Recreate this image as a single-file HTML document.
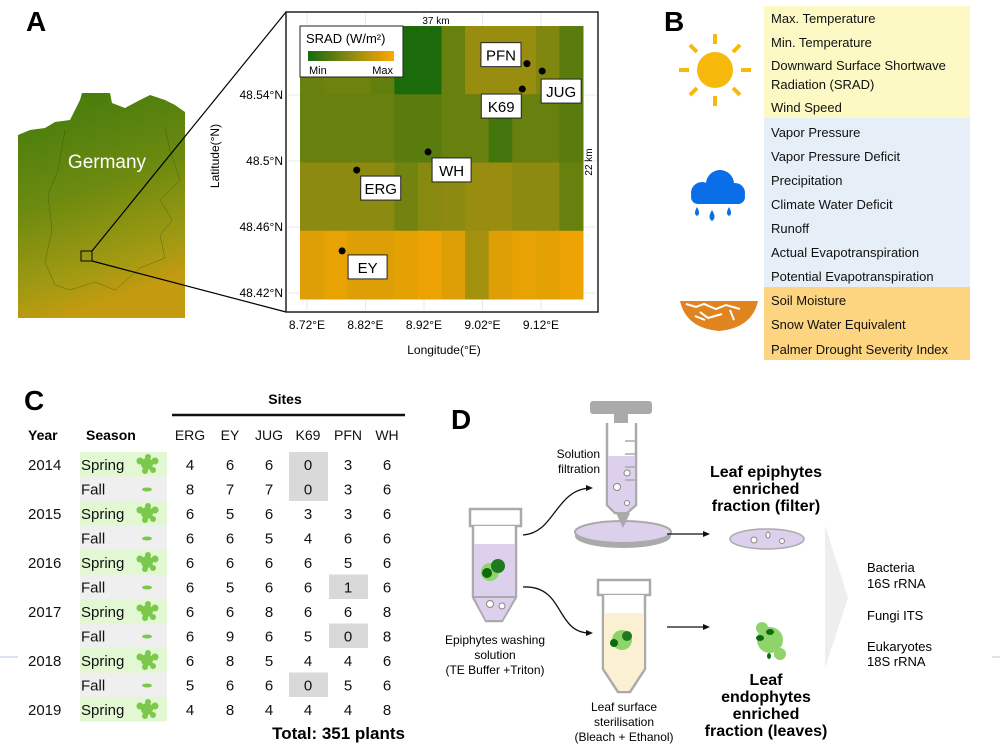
<!DOCTYPE html>
<html><head><meta charset="utf-8">
<style>
html,body{margin:0;padding:0;background:#fff;}
svg{display:block;font-family:"Liberation Sans",Arial,sans-serif;}
</style></head>
<body>
<svg id="fig" width="1000" height="750" viewBox="0 0 1000 750" xmlns="http://www.w3.org/2000/svg">
<defs>
<linearGradient id="germ" x1="0" y1="0" x2="0.25" y2="1">
<stop offset="0" stop-color="#3f7a0c"/><stop offset="0.5" stop-color="#6d8a10"/><stop offset="0.85" stop-color="#a39a12"/><stop offset="1" stop-color="#c49a10"/>
</linearGradient>
<linearGradient id="cbar" x1="0" y1="0" x2="1" y2="0">
<stop offset="0" stop-color="#17690c"/><stop offset="0.5" stop-color="#8c8a10"/><stop offset="1" stop-color="#ffa800"/>
</linearGradient>
</defs>

<!-- Panel A -->
<text x="26" y="31" font-size="28" font-weight="bold">A</text>
<g>
<polygon points="18,135 30,130 45,128 55,122 70,120 80,100 82,93 110,93 112,103 125,108 140,100 150,95 165,100 175,105 185,112 185,318 18,318" fill="url(#germ)"/>
<path d="M65,130 L58,170 L48,195 L52,230 L45,262 L55,285 L70,290 L95,282 L115,290 L140,268 L165,258 L160,235 L172,220 L160,200 L180,180 L170,150 L165,128" fill="none" stroke="#2a4a08" stroke-width="0.5" opacity="0.6"/>
<text x="107" y="168" font-size="19" fill="#fff" text-anchor="middle">Germany</text>
<rect x="81" y="251" width="11" height="10" fill="none" stroke="#000" stroke-width="1"/>
</g>
<line x1="92" y1="251" x2="286" y2="12" stroke="#000" stroke-width="1.2"/>
<line x1="92" y1="261" x2="286" y2="312" stroke="#000" stroke-width="1.2"/>

<g id="mapPanel">
<rect x="286" y="12" width="312" height="300" fill="#fff" stroke="#222" stroke-width="1.5"/>
</g>
<text x="436" y="24" font-size="10" text-anchor="middle">37 km</text>
<text x="0" y="0" font-size="10" text-anchor="middle" transform="translate(592,162) rotate(-90)">22 km</text>
<text x="0" y="0" font-size="12" text-anchor="middle" transform="translate(219,156) rotate(-90)">Latitude(°N)</text>
<text x="444" y="354" font-size="12" text-anchor="middle">Longitude(°E)</text>

<!-- Panel B -->
<text x="664" y="31" font-size="28" font-weight="bold">B</text>
<rect x="764" y="6" width="206" height="112" fill="#fdf9c4"/>
<rect x="764" y="118" width="206" height="169" fill="#e6eef8"/>
<rect x="764" y="287" width="206" height="73" fill="#fdd580"/>
<g id="bvars" font-size="13" fill="#111"></g>
<g stroke="#f7b80c" stroke-width="4">
<circle cx="715" cy="70" r="18" fill="#f7b80c" stroke="none"/>
<line x1="715" y1="34" x2="715" y2="44"/><line x1="715" y1="96" x2="715" y2="106"/>
<line x1="679" y1="70" x2="689" y2="70"/><line x1="741" y1="70" x2="751" y2="70"/>
<line x1="690" y1="45" x2="697" y2="52"/><line x1="733" y1="88" x2="740" y2="95"/>
<line x1="740" y1="45" x2="733" y2="52"/><line x1="697" y1="88" x2="690" y2="95"/>
</g>
<g fill="#0a6ee8">
<circle cx="702" cy="193" r="11"/><circle cx="720" cy="184" r="14"/><circle cx="735" cy="193" r="10"/>
<rect x="691" y="190" width="54" height="14" rx="7"/>
<path d="M697,207 q-4,7 0,9 q4,-2 0,-9z"/><path d="M712,210 q-5,8 0,11 q5,-3 0,-11z"/><path d="M729,207 q-4,7 0,9 q4,-2 0,-9z"/>
</g>
<g>
<path d="M680,301 L758,301 Q752,328 719,331 Q686,328 680,301z" fill="#e08420"/>
<path d="M686,304 l10,3 l8,-3 l12,5 l10,-4 l14,4 M700,312 l8,6 l14,-4 M730,310 l4,10 M695,316 l10,4" stroke="#fff" stroke-width="2" fill="none"/>
</g>

<!-- Panel C -->
<text x="24" y="410" font-size="28" font-weight="bold">C</text>
<text x="285" y="404" font-size="14" font-weight="bold" text-anchor="middle">Sites</text>
<line x1="172" y1="415" x2="405" y2="415" stroke="#111" stroke-width="2.5"/>
<text x="28" y="440" font-size="14" font-weight="bold">Year</text>
<text x="86" y="440" font-size="14" font-weight="bold">Season</text>
<g id="table" font-size="14" fill="#111"></g>
<text x="405" y="739" font-size="17" font-weight="bold" text-anchor="end">Total: 351 plants</text>
<line x1="0" y1="657" x2="18" y2="657" stroke="#b8c8e8" stroke-width="1"/>

<!-- Panel D -->
<text x="451" y="429" font-size="28" font-weight="bold">D</text>
<g>
<rect x="470" y="509" width="51" height="17" fill="#fff" stroke="#aaa" stroke-width="2.5"/>
<path d="M473,526 L473,597 L486,621 L502,621 L516,597 L516,526" fill="#fff" stroke="#aaa" stroke-width="2.5"/>
<path d="M474,544 L515,544 L515,597 L502,620 L486,620 L474,597z" fill="#ddd0ec"/>
<line x1="473" y1="597" x2="516" y2="597" stroke="#aaa" stroke-width="2"/>
<circle cx="490" cy="572" r="9" fill="#8ed46a"/><circle cx="498" cy="566" r="7" fill="#1e7a1e"/><circle cx="487" cy="573" r="5" fill="#0d6a0d"/>
<circle cx="490" cy="604" r="3.5" fill="#fff" stroke="#888"/><circle cx="502" cy="606" r="3" fill="#fff" stroke="#888"/>
</g>
<text font-size="12" text-anchor="middle"><tspan x="495" y="644">Epiphytes washing</tspan><tspan x="495" y="659">solution</tspan><tspan x="495" y="674">(TE Buffer +Triton)</tspan></text>
<g>
<rect x="590" y="401" width="62" height="13" rx="3" fill="#aaa"/>
<rect x="614" y="413" width="14" height="10" fill="#aaa"/>
<path d="M607,423 L607,505 L615,513 L627,513 L636,505 L636,423" fill="#fff" stroke="#aaa" stroke-width="2.5"/>
<path d="M608,456 L635,456 L635,504 L626,512 L616,512 L608,504z" fill="#ddd0ec"/>
<path d="M625,441 h10 M625,454 h10 M625,467 h10 M625,480 h10" stroke="#aaa" stroke-width="1.5"/>
<circle cx="617" cy="487" r="3.5" fill="#fff" stroke="#888"/><circle cx="627" cy="473" r="3" fill="#fff" stroke="#888"/><circle cx="627" cy="503" r="2.5" fill="#fff" stroke="#888"/>
<ellipse cx="623" cy="536" rx="48" ry="12" fill="#aaa"/>
<ellipse cx="623" cy="532" rx="48" ry="11" fill="#ddd0ec" stroke="#aaa" stroke-width="2"/>
<path d="M616,513 L623,528 L630,513z" fill="#aaa"/>
</g>
<text font-size="12" text-anchor="end"><tspan x="600" y="458">Solution</tspan><tspan x="600" y="473">filtration</tspan></text>
<path d="M523,535 C555,533 555,490 590,488" fill="none" stroke="#111" stroke-width="1.3"/>
<path d="M593,488 l-7,-3 l0,6z" fill="#111"/>
<path d="M523,587 C565,585 555,633 590,633" fill="none" stroke="#111" stroke-width="1.3"/>
<path d="M593,633 l-7,-3 l0,6z" fill="#111"/>
<g>
<rect x="598" y="580" width="52" height="15" fill="#fff" stroke="#aaa" stroke-width="2.5"/>
<path d="M603,595 L603,669 L618,692 L630,692 L645,669 L645,595" fill="#fff" stroke="#aaa" stroke-width="2.5"/>
<path d="M604,613 L644,613 L644,668 L629,691 L619,691 L604,668z" fill="#fbf0d2"/>
<circle cx="622" cy="640" r="10" fill="#8ed46a"/><circle cx="627" cy="636" r="5" fill="#1e7a1e"/><circle cx="614" cy="643" r="4" fill="#0d6a0d"/>
</g>
<text font-size="12" text-anchor="middle"><tspan x="624" y="711">Leaf surface</tspan><tspan x="624" y="726">sterilisation</tspan><tspan x="624" y="741">(Bleach + Ethanol)</tspan></text>
<line x1="667" y1="534" x2="705" y2="534" stroke="#111" stroke-width="1.3"/><path d="M710,534 l-7,-3 l0,6z" fill="#111"/>
<line x1="667" y1="627" x2="705" y2="627" stroke="#111" stroke-width="1.3"/><path d="M710,627 l-7,-3 l0,6z" fill="#111"/>
<g>
<ellipse cx="767" cy="539" rx="37" ry="10" fill="#ddd0ec" stroke="#aaa" stroke-width="1.5"/>
<circle cx="754" cy="540" r="3" fill="#fff" stroke="#888"/><ellipse cx="768" cy="535" rx="2" ry="3" fill="#fff" stroke="#888"/><circle cx="782" cy="541" r="2.5" fill="#fff" stroke="#888"/>
</g>
<text font-size="16" font-weight="bold" text-anchor="middle"><tspan x="766" y="477">Leaf epiphytes</tspan><tspan x="766" y="494">enriched</tspan><tspan x="766" y="511">fraction (filter)</tspan></text>
<g>
<circle cx="770" cy="640" r="13" fill="#8ed46a"/><circle cx="762" cy="628" r="6" fill="#8ed46a"/><circle cx="780" cy="654" r="6" fill="#8ed46a"/>
<ellipse cx="770" cy="632" rx="4" ry="3" fill="#0d6a0d"/><ellipse cx="760" cy="638" rx="4" ry="3" fill="#0d6a0d"/><ellipse cx="769" cy="656" rx="2" ry="3" fill="#0d6a0d"/>
</g>
<text font-size="16" font-weight="bold" text-anchor="middle"><tspan x="766" y="685">Leaf</tspan><tspan x="766" y="702">endophytes</tspan><tspan x="766" y="719">enriched</tspan><tspan x="766" y="736">fraction (leaves)</tspan></text>
<polygon points="825,525 848,598 825,668" fill="#eeeeee"/>
<text font-size="13"><tspan x="867" y="572">Bacteria</tspan><tspan x="867" y="588">16S rRNA</tspan><tspan x="867" y="620">Fungi ITS</tspan><tspan x="867" y="651">Eukaryotes</tspan><tspan x="867" y="666">18S rRNA</tspan></text>
<line x1="992" y1="657" x2="1000" y2="657" stroke="#b8c8e8" stroke-width="1"/>
</svg>
<script>
var NS="http://www.w3.org/2000/svg";
// ---- Map heatmap data (0 = min SRAD, 1 = max SRAD) ----
var sradRow0=[0.35,0.38,0.38,0.33,0.05,0.05,0.35,0.55,0.55,0.55,0.45,0.30];
var sradRow1=[0.35,0.35,0.35,0.35,0.30,0.30,0.35,0.35,0.20,0.35,0.35,0.30];
var sradRow2=[0.50,0.50,0.50,0.50,0.40,0.48,0.50,0.55,0.55,0.50,0.50,0.35];
var sradRow3=[0.85,0.90,0.85,0.85,0.88,0.92,0.85,0.60,0.85,0.90,0.88,0.92];
var lonTicks=[8.72,8.82,8.92,9.02,9.12];
var latTicks=[48.54,48.5,48.46,48.42];
var siteNames=["PFN","JUG","K69","WH","ERG","EY"];
var siteLon=[9.096,9.122,9.088,8.927,8.805,8.78];
var siteLat=[48.559,48.5545,48.5436,48.5055,48.4945,48.4455];
// ---- Table data ----
var years=["2014","","2015","","2016","","2017","","2018","","2019"];
var seasons=["Spring","Fall","Spring","Fall","Spring","Fall","Spring","Fall","Spring","Fall","Spring"];
var sites=["ERG","EY","JUG","K69","PFN","WH"];
var ERG=[4,8,6,6,6,6,6,6,6,5,4];
var EY=[6,7,5,6,6,5,6,9,8,6,8];
var JUG=[6,7,6,5,6,6,8,6,5,6,4];
var K69=[0,0,3,4,6,6,6,5,4,0,4];
var PFN=[3,3,3,6,5,1,6,0,4,5,4];
var WH=[6,6,6,6,6,6,8,8,6,6,8];
var bVars=["Max. Temperature","Min. Temperature","Downward Surface Shortwave","Radiation (SRAD)","Wind Speed","Vapor Pressure","Vapor Pressure Deficit","Precipitation","Climate Water Deficit","Runoff","Actual Evapotranspiration","Potential Evapotranspiration","Soil Moisture","Snow Water Equivalent","Palmer Drought Severity Index"];
var bY=[23,47,70,89,112,137,161,185,209,233,257,281,305,329,354];

function el(t,a,p){var e=document.createElementNS(NS,t);for(var k in a)e.setAttribute(k,a[k]);(p||document.getElementById('fig')).appendChild(e);return e;}
function lerp(a,b,t){return a+(b-a)*t;}
function col(v){var c0=[16,104,10],c1=[140,138,16],c2=[255,168,0],a,b,t;
 if(v<0.5){a=c0;b=c1;t=v/0.5;}else{a=c1;b=c2;t=(v-0.5)/0.5;}
 return "rgb("+Math.round(lerp(a[0],b[0],t))+","+Math.round(lerp(a[1],b[1],t))+","+Math.round(lerp(a[2],b[2],t))+")";}
var mp=document.getElementById('mapPanel');
var X0=300,X1=583,Y0=26,Y1=299;
function xLon(l){return 307+(l-8.72)*(541-307)/0.40;}
function yLat(l){return 95+(48.54-l)*(293-95)/0.12;}
for(var i=0;i<lonTicks.length;i++){var gx=xLon(lonTicks[i]);var g=el('line',{x1:gx,y1:14,x2:gx,y2:310,stroke:'#e8e8e8'},mp);}
for(var i=0;i<latTicks.length;i++){var gy=yLat(latTicks[i]);var g=el('line',{x1:288,y1:gy,x2:596,y2:gy,stroke:'#e8e8e8'},mp);}
var rows=[sradRow0,sradRow1,sradRow2,sradRow3];
var cw=(X1-X0)/12,rh=(Y1-Y0)/4;
for(var r=0;r<4;r++)for(var c=0;c<12;c++){
 var cell=el('rect',{x:X0+c*cw,y:Y0+r*rh,width:cw+0.5,height:rh+0.5,fill:col(rows[r][c])},mp);
 
 
}
for(var i=0;i<lonTicks.length;i++){var t=el('text',{x:xLon(lonTicks[i]),y:329,'font-size':12,'text-anchor':'middle'});t.textContent=lonTicks[i].toFixed(2)+"°E";
 }
for(var i=0;i<latTicks.length;i++){var v=latTicks[i];var s=(Math.round(v*100)%10===0)?v.toFixed(1):v.toFixed(2);var t=el('text',{x:283,y:yLat(v)+4,'font-size':12,'text-anchor':'end'});t.textContent=s+"°N";
 }
var lg=el('g',{},mp);
el('rect',{x:300,y:26,width:103,height:51,fill:'#fff',stroke:'#222','stroke-width':1},lg);
var lt=el('text',{x:306,y:43,'font-size':13},lg);lt.textContent="SRAD (W/m²)";
el('rect',{x:308,y:51,width:86,height:10,fill:'url(#cbar)'},lg);
var mn=el('text',{x:309,y:74,'font-size':11},lg);mn.textContent="Min";
var mx=el('text',{x:393,y:74,'font-size':11,'text-anchor':'end'},lg);mx.textContent="Max";
var lblOff=[[-46,-21],[-1,8],[-41,5],[4,6],[4,6],[6,4]];
for(var i=0;i<siteNames.length;i++){
 var px=xLon(siteLon[i]),py=yLat(siteLat[i]);
 var d=el('circle',{cx:px,cy:py,r:3.5,fill:'#000'},mp);
 
 var bx=px+lblOff[i][0],by=py+lblOff[i][1];
 var w=siteNames[i].length>2?40:39;
 var b=el('rect',{x:bx,y:by,width:w,height:24,fill:'#fff',stroke:'#222','stroke-width':1},mp);
 
 var tt=el('text',{x:bx+w/2,y:by+18,'font-size':15,'text-anchor':'middle'},mp);tt.textContent=siteNames[i];
 
}
var bg=document.getElementById('bvars');
for(var i=0;i<bVars.length;i++){var t=el('text',{x:771,y:bY[i]},bg);t.textContent=bVars[i];
 }
var tb=document.getElementById('table');
var siteX=[190,230,269,308,348,387];
var cols=[ERG,EY,JUG,K69,PFN,WH];
for(var j=0;j<sites.length;j++){var h=el('text',{x:siteX[j],y:440,'text-anchor':'middle'},tb);h.textContent=sites[j];
 }
var rowH=24.5,rY0=452;
for(var r=0;r<seasons.length;r++){
 var y=rY0+r*rowH;var sp=seasons[r]==="Spring";
 var bgc=el('rect',{x:80,y:y,width:87,height:rowH,fill:sp?'#e2f8d2':'#efefef'},tb);
 
 var st=el('text',{x:81,y:y+18,'font-size':15},tb);st.textContent=seasons[r];
 
 if(sp){var ic=el('g',{fill:'#7cc84c'},tb);
  el('circle',{cx:147,cy:y+12,r:6},ic);el('circle',{cx:140,cy:y+9,r:3.5},ic);el('circle',{cx:155,cy:y+9,r:3.5},ic);el('circle',{cx:145,cy:y+19,r:3},ic);el('circle',{cx:153,cy:y+18,r:3},ic);el('circle',{cx:148,cy:y+5,r:3},ic);}
 else{var ic=el('ellipse',{cx:147,cy:y+13,rx:5,ry:2,fill:'#7cc84c'},tb);}
 if(years[r]){var yt=el('text',{x:28,y:y+18,'font-size':15},tb);yt.textContent=years[r];
  }
 for(var j=0;j<cols.length;j++){
  var v=cols[j][r];
  if(v===0||v===1){var hb=el('rect',{x:siteX[j]-19,y:y,width:39,height:rowH,fill:'#d9d9d9'},tb);}
  var ct=el('text',{x:siteX[j],y:y+18,'text-anchor':'middle','font-size':15},tb);ct.textContent=v;
  
 }
}
</script>
</body></html>
